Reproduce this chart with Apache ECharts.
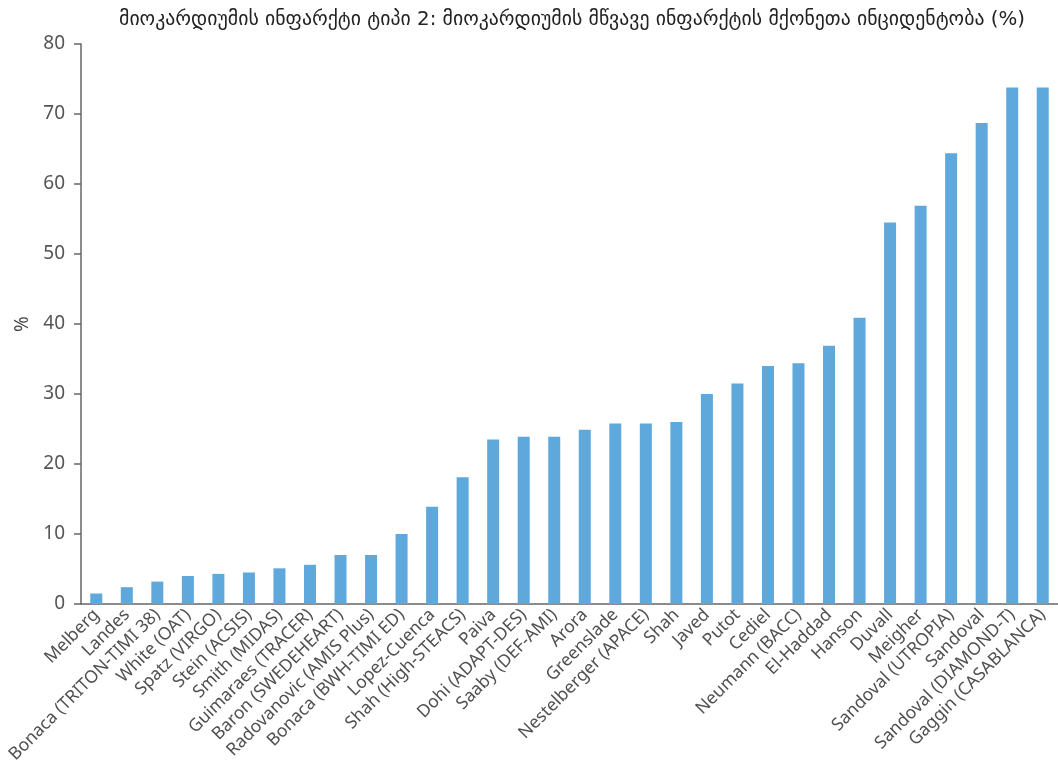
<!DOCTYPE html>
<html>
<head>
<meta charset="utf-8">
<script src="https://cdn.jsdelivr.net/npm/echarts@6/dist/echarts.min.js"></script>
<style>
html,body{margin:0;padding:0;background:#fff;}
#chart{width:1058px;height:775px;}
</style>
</head>
<body>
<div id="chart"></div>
<script>
const titleText = 'მიოკარდიუმის ინფარქტი ტიპი 2: მიოკარდიუმის მწვავე ინფარქტის მქონეთა ინციდენტობა (%)';
const categories = ['Melberg','Landes','Bonaca (TRITON-TIMI 38)','White (OAT)','Spatz (VIRGO)','Stein (ACSIS)','Smith (MIDAS)','Guimaraes (TRACER)','Baron (SWEDEHEART)','Radovanovic (AMIS Plus)','Bonaca (BWH-TIMI ED)','Lopez-Cuenca','Shah (High-STEACS)','Paiva','Dohi (ADAPT-DES)','Saaby (DEF-AMI)','Arora','Greenslade','Nestelberger (APACE)','Shah','Javed','Putot','Cediel','Neumann (BACC)','El-Haddad','Hanson','Duvall','Meigher','Sandoval (UTROPIA)','Sandoval','Sandoval (DIAMOND-T)','Gaggin (CASABLANCA)'];
const values = [1.5,2.4,3.2,4.0,4.3,4.5,5.1,5.6,7.0,7.0,10.0,13.9,18.1,23.5,23.9,23.9,24.9,25.8,25.8,26.0,30.0,31.5,34.0,34.4,36.9,40.9,54.5,56.9,64.4,68.7,73.8,73.8];
const yTicks = [0,10,20,30,40,50,60,70,80];

const chart = echarts.init(document.getElementById('chart'));
chart.setOption({
  animation:false,
  title:{text:titleText,left:567,top:5,textAlign:'center',
    textStyle:{fontFamily:'DejaVu Sans',fontSize:19.8,fontWeight:'normal',color:'#222'}},
  grid:{left:81,right:0,top:44,bottom:171},
  xAxis:{type:'category',data:categories,
    axisLine:{lineStyle:{color:'#666',width:1.5}},
    axisTick:{show:false},
    axisLabel:{rotate:45,interval:0,fontFamily:'Noto Sans',fontSize:17.5,color:'#505050',margin:8}},
  yAxis:{type:'value',min:yTicks[0],max:yTicks[yTicks.length-1],interval:10,
    name:'%',nameLocation:'middle',nameGap:48,nameRotate:90,
    nameTextStyle:{fontFamily:'Noto Sans',fontSize:19,color:'#444'},
    axisLine:{show:true,lineStyle:{color:'#666',width:1.5}},
    axisTick:{show:true,length:7,lineStyle:{color:'#666',width:1.5}},
    splitLine:{show:false},
    axisLabel:{fontFamily:'Noto Sans',fontSize:19,color:'#555',margin:16}},
  series:[{type:'bar',data:values,barWidth:12,itemStyle:{color:'#5fa8dc'}}]
});
</script>
</body>
</html>
